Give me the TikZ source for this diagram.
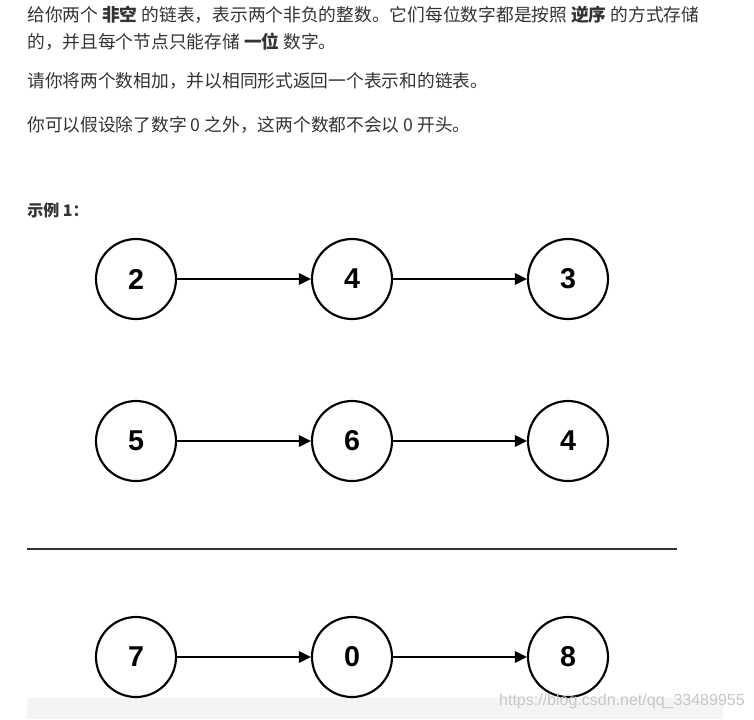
\documentclass[tikz,border=0pt]{standalone}
\usepackage{fontspec}
\setmainfont{Liberation Sans}
\newfontfamily\cjk{Noto Sans CJK SC}
\usetikzlibrary{arrows.meta}
\definecolor{txt}{HTML}{333333}
\definecolor{boxgray}{HTML}{F4F4F4}
\tikzset{
  listnode/.style={circle, draw=black, line width=1.6pt, minimum size=60pt, inner sep=0pt,
    font=\fontsize{21.5}{24}\selectfont\bfseries},
  link/.style={-{Triangle[length=9pt,width=8.5pt]}, line width=1.5pt},
  para/.style={anchor=west, inner sep=0pt, text=txt, font=\cjk\fontsize{13.3}{16}\selectfont},
}
\begin{document}
\begin{tikzpicture}[x=0.75pt, y=-0.75pt]
\useasboundingbox[fill=white] (0,0) rectangle (754,719);
% bottom gray code box
\fill[boxgray] (27,698) rectangle (723,719);
% text
\node[para] (t1) at (27,15) {给你两个 \textbf{非空} 的链表，表示两个非负的整数。它们每位数字都是按照 \textbf{逆序} 的方式存储};
\node[para] (t2) at (27,42) {的，并且每个节点只能存储 \textbf{一位} 数字。};
\node[para] (t3) at (27,81) {请你将两个数相加，并以相同形式返回一个表示和的链表。};
\node[para] (t4) at (27,125) {你可以假设除了数字 0 之外，这两个数都不会以 0 开头。};
\node[para, font=\cjk\fontsize{12}{14}\selectfont\bfseries] (ex) at (27,210) {示例 1：};
% row 1
\node[listnode] (a1) at (136,279) {2};
\node[listnode] (a2) at (352,279) {4};
\node[listnode] (a3) at (568,279) {3};
% row 2
\node[listnode] (b1) at (136,441) {5};
\node[listnode] (b2) at (352,441) {6};
\node[listnode] (b3) at (568,441) {4};
% row 3
\node[listnode] (c1) at (136,657) {7};
\node[listnode] (c2) at (352,657) {0};
\node[listnode] (c3) at (568,657) {8};
% links
\draw[link] (a1) -- (a2);
\draw[link] (a2) -- (a3);
\draw[link] (b1) -- (b2);
\draw[link] (b2) -- (b3);
\draw[link] (c1) -- (c2);
\draw[link] (c2) -- (c3);
% separator
\coordinate (s1) at (27,549);
\coordinate (s2) at (677,549);
\draw[line width=2.2pt, color=txt] (s1) -- (s2);
% watermark
\node[anchor=east, inner sep=0pt, text=black!22, font=\fontsize{12}{14}\selectfont] (wm) at (745,701) {https://blog.csdn.net/qq\_33489955};
\end{tikzpicture}
\end{document}
